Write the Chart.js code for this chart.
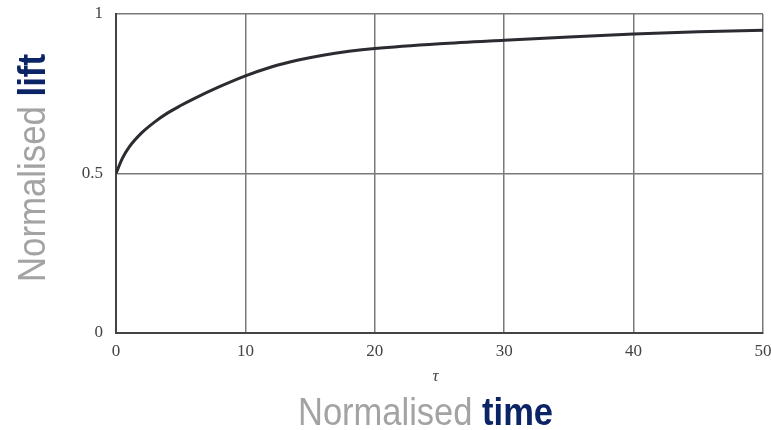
<!DOCTYPE html>
<html>
  <head>
    <meta charset="UTF-8" />
    <title>Normalised lift vs normalised time</title>
    <style>
      body {
        margin: 0;
        background: #fff;
      }
      #wrap {
        width: 771px;
        height: 430px;
      }
    </style>
  </head>
  <body>
    <div id="wrap"><canvas id="chart"></canvas></div>

    <script src="https://cdn.jsdelivr.net/npm/chart.js"></script>
    <script>
      // values
      const tau = [0, 0.5, 1, 2, 3, 4, 5, 6, 8, 10, 12, 14, 16, 18, 20, 25, 30, 35, 40, 45, 50];
      const lift = [0.5, 0.548, 0.582, 0.628, 0.662, 0.69, 0.713, 0.734, 0.772, 0.806, 0.834,
        0.855, 0.871, 0.883, 0.892, 0.907, 0.918, 0.928, 0.937, 0.944, 0.949];
      const xTicks = [0, 10, 20, 30, 40, 50];
      const yTicks = [0, 0.5, 1];

      const grey = "#a3a3a3";
      const navy = "#0b2465";
      const tickFont = { family: "'Liberation Serif', 'DejaVu Serif', serif", size: 17 };

      // draws "Normalised <bold word>" squeezed to a given width
      function mixedLabel(ctx, word, w) {
        const parts = [
          { t: "Normalised ", f: "38px 'Liberation Sans', Arial, sans-serif", c: grey },
          { t: word, f: "bold 38px 'Liberation Sans', Arial, sans-serif", c: navy },
        ];
        let total = 0;
        parts.forEach((p) => {
          ctx.font = p.f;
          p.w = ctx.measureText(p.t).width;
          total += p.w;
        });
        ctx.scale(w / total, 1);
        let x = 0;
        parts.forEach((p) => {
          ctx.font = p.f;
          ctx.fillStyle = p.c;
          ctx.textBaseline = "alphabetic";
          ctx.fillText(p.t, x, 0);
          x += p.w;
        });
      }

      const titles = {
        id: "titles",
        afterDraw(chart) {
          const ctx = chart.ctx;
          const a = chart.chartArea;

          ctx.save();
          ctx.font = "italic 17px 'Liberation Serif', 'DejaVu Serif', serif";
          ctx.fillStyle = "#444";
          ctx.textAlign = "center";
          ctx.textBaseline = "middle";
          ctx.fillText("τ", (a.left + a.right) / 2 - 4, 377);
          ctx.restore();

          ctx.save();
          ctx.translate(298, 425);
          mixedLabel(ctx, "time", 255);
          ctx.restore();

          ctx.save();
          ctx.translate(45, 282);
          ctx.rotate(-Math.PI / 2);
          mixedLabel(ctx, "lift", 228);
          ctx.restore();
        },
      };

      new Chart(document.getElementById("chart"), {
        type: "line",
        data: {
          datasets: [
            {
              data: tau.map((t, i) => ({ x: t, y: lift[i] })),
              borderColor: "#2b2b31",
              borderWidth: 3,
              pointRadius: 0,
              cubicInterpolationMode: "monotone",
              fill: false,
            },
          ],
        },
        options: {
          responsive: true,
          maintainAspectRatio: false,
          animation: false,
          layout: { padding: { top: 14, right: 8, left: 0, bottom: 0 } },
          plugins: { legend: { display: false }, tooltip: { enabled: false } },
          scales: {
            x: {
              type: "linear",
              min: 0,
              max: 50,
              afterBuildTicks: (s) => {
                s.ticks = xTicks.map((v) => ({ value: v }));
              },
              afterFit: (s) => {
                s.height = 97;
                s.paddingLeft = 0;
                s.paddingRight = 0;
              },
              grid: { color: "#7a7a7a", lineWidth: 1.5, drawTicks: false },
              border: { color: "#444", width: 2 },
              ticks: { font: tickFont, color: "#444", padding: 8, maxRotation: 0 },
            },
            y: {
              min: 0,
              max: 1,
              afterBuildTicks: (s) => {
                s.ticks = yTicks.map((v) => ({ value: v }));
              },
              afterFit: (s) => {
                s.width = 116;
                s.paddingTop = 0;
                s.paddingBottom = 0;
              },
              grid: { color: "#7a7a7a", lineWidth: 1.5, drawTicks: false },
              border: { color: "#444", width: 2 },
              ticks: {
                font: tickFont,
                color: "#444",
                padding: 13,
                callback: (v) => String(v),
              },
            },
          },
        },
        plugins: [titles],
      });
    </script>
  </body>
</html>
